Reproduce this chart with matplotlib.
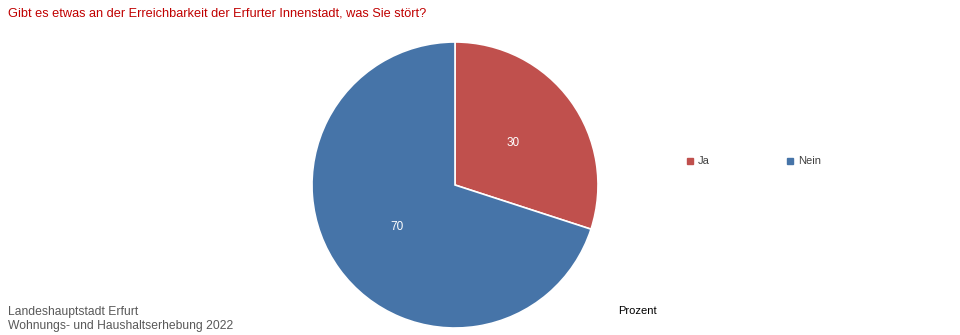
import matplotlib
matplotlib.use("Agg")
import matplotlib.pyplot as plt

categories = ["Ja", "Nein"]
values = [30, 70]
colors = ["#C0504D", "#4674A8"]
title = "Gibt es etwas an der Erreichbarkeit der Erfurter Innenstadt, was Sie stört?"
source_lines = ["Landeshauptstadt Erfurt", "Wohnungs- und Haushaltserhebung 2022"]
unit_label = "Prozent"

W, H = 960, 335
fig = plt.figure(figsize=(W / 100, H / 100), dpi=100)
plt.rcParams['font.family'] = ['Liberation Sans', 'DejaVu Sans']

cx, cy, r = 455, 185, 143
ax = fig.add_axes([(cx - r) / W, (H - cy - r) / H, 2 * r / W, 2 * r / H])
wedges, texts = ax.pie(values, colors=colors, startangle=90, counterclock=False,
                       radius=1.0, wedgeprops=dict(edgecolor="white", linewidth=1.2),
                       labels=[str(v) for v in values], labeldistance=0.5)
for t in texts:
    t.set_color("white")
    t.set_fontsize(8.5)
    t.set_ha("center")
ax.set_xlim(-1, 1)
ax.set_ylim(-1, 1)
ax.set_aspect("equal")
ax.axis("off")

fig.text(8 / W, 1 - 13 / H, title, color="#C00000", fontsize=9.2, va="center", ha="left")
fig.text(8 / W, 1 - 312 / H, source_lines[0], color="#595959", fontsize=8.7, va="center")
fig.text(8 / W, 1 - 326 / H, source_lines[1], color="#595959", fontsize=8.7, va="center")
fig.text(618 / W, 1 - 311 / H, unit_label, color="black", fontsize=8, va="center")

leg_x = [690, 790]
for x, lab, c in zip(leg_x, categories, colors):
    fig.patches.append(plt.Rectangle(((x - 3) / W, (H - 161 - 3) / H), 6 / W, 6 / H,
                                     transform=fig.transFigure, color=c))
    fig.text((x + 8) / W, 1 - 161 / H, lab, color="#404040", fontsize=8, va="center")

fig.savefig("out.png", dpi=100)
